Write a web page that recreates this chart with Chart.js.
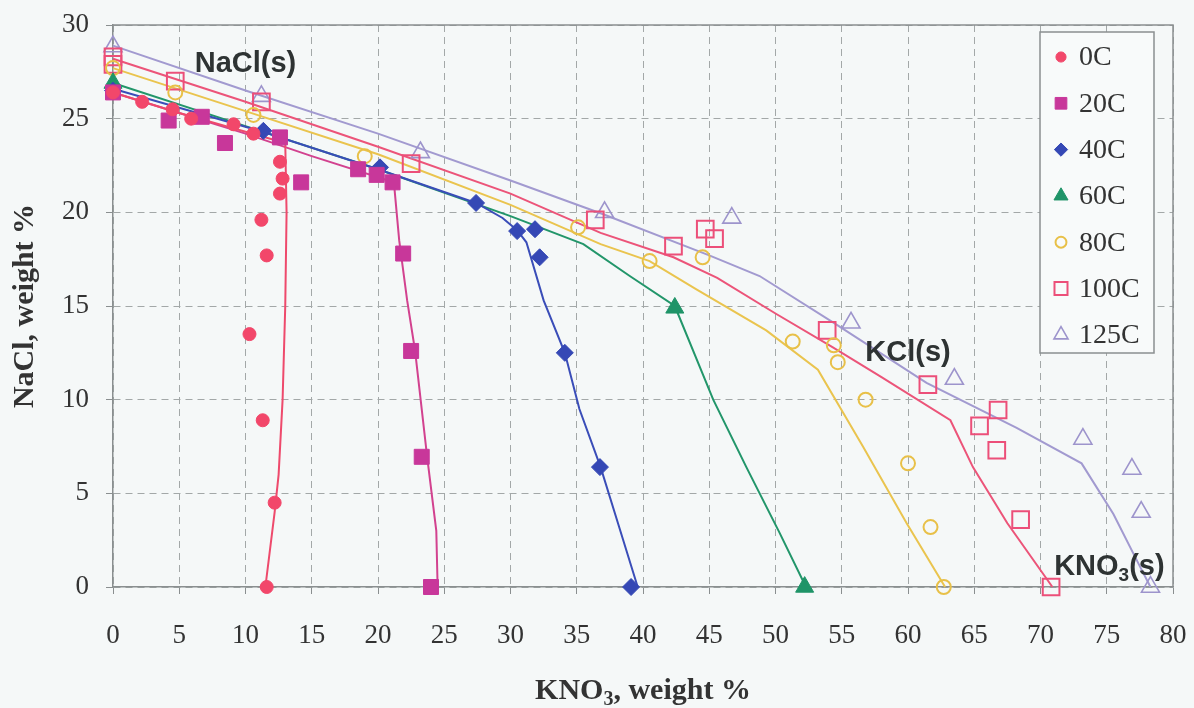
<!DOCTYPE html>
<html><head><meta charset="utf-8">
<script src="https://cdn.jsdelivr.net/npm/chart.js@4.4.0/dist/chart.umd.min.js"></script>
<style>html,body{margin:0;padding:0;background:#f5f8f8}#wrap{width:1194px;height:708px}canvas{display:block}</style>
</head><body><div id="wrap"><canvas id="c" width="1194" height="708"></canvas></div>
<script>
// ---- data ----
const seriesNames = ['0C','20C','40C','60C','80C','100C','125C'];
const xTicks = [0,5,10,15,20,25,30,35,40,45,50,55,60,65,70,75,80];
const yTicks = [0,5,10,15,20,25,30];

// measured points (KNO3 wt%, NaCl wt%)
const p0C_x   = [0, 2.2, 4.5, 5.9, 9.1, 10.6, 12.6, 12.8, 12.6, 11.2, 11.6, 10.3, 11.3, 12.2, 11.6];
const p0C_y   = [26.4, 25.9, 25.5, 25.0, 24.7, 24.2, 22.7, 21.8, 21.0, 19.6, 17.7, 13.5, 8.9, 4.5, 0];
const p20C_x  = [0, 4.2, 6.7, 8.45, 12.6, 14.2, 18.5, 19.9, 21.1, 21.9, 22.5, 23.3, 24.0];
const p20C_y  = [26.4, 24.9, 25.1, 23.7, 24.0, 21.6, 22.3, 22.0, 21.6, 17.8, 12.6, 6.95, 0];
const p40C_x  = [0, 11.35, 20.15, 27.4, 30.5, 31.85, 32.2, 34.1, 36.75, 39.1];
const p40C_y  = [26.5, 24.35, 22.4, 20.5, 19.0, 19.1, 17.6, 12.5, 6.4, 0];
const p60C_x  = [0, 42.4, 52.2];
const p60C_y  = [26.9, 14.9, 0];
const p80C_x  = [0, 4.7, 10.6, 19.0, 35.1, 40.5, 44.5, 51.3, 54.4, 54.7, 56.8, 60.0, 61.7, 62.7];
const p80C_y  = [27.7, 26.4, 25.2, 23.0, 19.2, 17.4, 17.6, 13.1, 12.9, 12.0, 10.0, 6.6, 3.2, 0];
const p100C_x = [0, 0, 4.7, 11.2, 22.5, 36.4, 42.3, 44.7, 45.4, 53.9, 61.5, 65.4, 66.8, 66.7, 68.5, 70.8];
const p100C_y = [28.3, 27.9, 27.0, 25.9, 22.6, 19.6, 18.2, 19.1, 18.6, 13.7, 10.8, 8.6, 9.45, 7.3, 3.6, 0];
const p125C_x = [0, 11.2, 23.2, 37.1, 46.7, 55.7, 63.5, 73.2, 76.9, 77.6, 78.3];
const p125C_y = [28.85, 26.2, 23.2, 20.0, 19.7, 14.1, 11.1, 7.9, 6.3, 4.0, 0];

// model curves
const c0C_x   = [0, 5, 10, 13.0, 13.1, 13.0, 12.8, 12.5, 12.2, 11.5];
const c0C_y   = [26.4, 25.3, 24.3, 23.7, 20, 15, 10, 6, 4, 0];
const c20C_x  = [0, 5, 10, 15, 21.2, 21.6, 22.2, 22.8, 23.7, 24.4, 24.5];
const c20C_y  = [26.4, 25.3, 24.2, 23.0, 21.6, 18.5, 15.3, 12.6, 7.0, 3.0, 0];
const c40C_x  = [0, 11.3, 20, 27.4, 29.4, 30.5, 31.2, 32.5, 34.1, 35.2, 36.8, 38.2, 39.6];
const c40C_y  = [26.6, 24.3, 22.3, 20.5, 19.7, 19.05, 18.4, 15.3, 12.5, 9.5, 6.4, 3.2, 0];
const c60C_x  = [0, 10, 20, 30, 35.5, 39, 42.4, 45.3, 47.8, 50.3, 52.3];
const c60C_y  = [26.9, 24.6, 22.3, 19.8, 18.3, 16.6, 15.0, 10.0, 6.4, 2.9, 0];
const c80C_x  = [0, 10, 20, 30, 36.8, 40.5, 44, 49.3, 53.2, 56.6, 59.9, 62.8];
const c80C_y  = [27.7, 25.4, 23.1, 20.4, 18.3, 17.4, 15.9, 13.7, 11.6, 7.5, 3.4, 0];
const c100C_x = [0, 10, 20, 30, 36.8, 42.3, 45.6, 50, 54.3, 58, 63.2, 64.9, 67.5, 70.9];
const c100C_y = [28.2, 25.9, 23.5, 21.0, 18.9, 17.6, 16.5, 14.6, 12.8, 11.2, 8.9, 6.4, 3.4, 0];
const c125C_x = [0, 10, 20, 30, 37, 45, 48.8, 54.4, 61.4, 68.2, 73.1, 75.5, 77.5, 78.3];
const c125C_y = [28.9, 26.5, 24.2, 21.7, 19.9, 17.7, 16.6, 14.1, 10.9, 8.5, 6.6, 3.9, 1.1, 0];

const phaseLabels = [
  {parts:[{t:'NaCl(s)'}], x:10, y:27.5},
  {parts:[{t:'KCl(s)'}], x:60, y:12.07},
  {parts:[{t:'KNO'},{t:'3',sub:true},{t:'(s)'}], x:75.2, y:0.64}
];

// ---- styles ----
const colors = ['#f2476a','#c8379a','#3548b5','#1f9468','#e8c048','#ec4f79','#9d94cc'];
const lineColors = ['#ee4a6c','#d2428f','#3a4db8','#22966a','#eac44e','#ec5479','#a29ad0'];
const mk = [
  {style:'circle',  r:6.5,  fill:true,  bw:1},
  {style:'rect',    r:10.6, fill:true,  bw:1},
  {style:'rectRot', r:8.5,  fill:true,  bw:1},
  {style:'triangle',r:10.4, fill:true,  bw:1},
  {style:'circle',  r:7,    fill:false, bw:2},
  {style:'rect',    r:11.8, fill:false, bw:2},
  {style:'triangle',r:10.4, fill:false, bw:1.6}
];
const pX = [p0C_x,p20C_x,p40C_x,p60C_x,p80C_x,p100C_x,p125C_x];
const pY = [p0C_y,p20C_y,p40C_y,p60C_y,p80C_y,p100C_y,p125C_y];
const cX = [c0C_x,c20C_x,c40C_x,c60C_x,c80C_x,c100C_x,c125C_x];
const cY = [c0C_y,c20C_y,c40C_y,c60C_y,c80C_y,c100C_y,c125C_y];
const zip = (xs, ys) => xs.map((x, i) => ({x, y: ys[i]}));

const datasets = [];
seriesNames.forEach((name, i) => {
  datasets.push({
    label: name, type: 'scatter', data: zip(pX[i], pY[i]), showLine: false,
    pointStyle: mk[i].style, pointRadius: mk[i].r, pointHoverRadius: mk[i].r,
    pointBackgroundColor: mk[i].fill ? colors[i] : 'rgba(0,0,0,0)',
    pointBorderColor: colors[i], pointBorderWidth: mk[i].bw, clip: false
  });
});
seriesNames.forEach((name, i) => {
  datasets.push({
    label: name + ' model', type: 'scatter', data: zip(cX[i], cY[i]), showLine: true,
    pointRadius: 0, borderColor: lineColors[i], borderWidth: 2, tension: 0, clip: false, fill: false
  });
});

const SERIF = "'Liberation Serif','Times New Roman',serif";
const SANS = "'Liberation Sans',Arial,sans-serif";

function drawParts(ctx, parts, x, y, size, family, weight, align) {
  const subSize = Math.round(size * 0.65);
  const fontOf = p => `${weight} ${p.sub ? subSize : size}px ${family}`;
  let total = 0;
  parts.forEach(p => { ctx.font = fontOf(p); total += ctx.measureText(p.t).width; });
  let cx = align === 'center' ? x - total / 2 : x;
  ctx.textAlign = 'left'; ctx.textBaseline = 'alphabetic';
  parts.forEach(p => {
    ctx.font = fontOf(p);
    ctx.fillText(p.t, cx, p.sub ? y + size * 0.2 : y);
    cx += ctx.measureText(p.t).width;
  });
}

const decor = {
  id: 'decor',
  beforeDraw(chart) {
    const {ctx} = chart;
    ctx.save(); ctx.fillStyle = '#f5f8f8'; ctx.fillRect(0, 0, chart.width, chart.height); ctx.restore();
  },
  afterDatasetsDraw(chart) {
    const {ctx, chartArea: a, scales: {x, y}} = chart;
    ctx.save();
    // frame top/right
    ctx.strokeStyle = '#8a8f90'; ctx.lineWidth = 1.5;
    ctx.beginPath(); ctx.moveTo(a.left, a.top); ctx.lineTo(a.right, a.top); ctx.lineTo(a.right, a.bottom); ctx.stroke();
    // phase labels
    ctx.fillStyle = '#2e3333';
    phaseLabels.forEach(l => drawParts(ctx, l.parts, x.getPixelForValue(l.x), y.getPixelForValue(l.y), 29, SANS, 'bold', 'center'));
    // x-axis title with subscript
    ctx.fillStyle = '#333';
    drawParts(ctx, [{t:'KNO'},{t:'3',sub:true},{t:', weight %'}], (a.left + a.right) / 2, 699, 30, SERIF, 'bold', 'center');
    // legend
    const L = a.right - 133, T = a.top + 7, W = 114, H = 321;
    ctx.fillStyle = '#f8fafa'; ctx.fillRect(L, T, W, H);
    ctx.strokeStyle = '#8a8f90'; ctx.lineWidth = 1.5; ctx.strokeRect(L, T, W, H);
    const drawPoint = (Chart.helpers && Chart.helpers.drawPoint) ? Chart.helpers.drawPoint : null;
    seriesNames.forEach((name, i) => {
      const cy = T + 25 + i * 46.3;
      const px = L + 21;
      ctx.fillStyle = mk[i].fill ? colors[i] : 'rgba(0,0,0,0)';
      ctx.strokeStyle = colors[i]; ctx.lineWidth = mk[i].bw;
      if (drawPoint) {
        drawPoint(ctx, {pointStyle: mk[i].style, radius: mk[i].r * 0.78, rotation: 0, borderWidth: mk[i].bw}, px, cy);
      } else {
        ctx.beginPath(); ctx.arc(px, cy, mk[i].r * 0.7, 0, Math.PI * 2); ctx.fill(); ctx.stroke();
      }
      ctx.fillStyle = '#333'; ctx.font = `28px ${SERIF}`; ctx.textAlign = 'left'; ctx.textBaseline = 'middle';
      ctx.fillText(name, L + 39, cy + 1);
    });
    ctx.restore();
  }
};

new Chart(document.getElementById('c'), {
  type: 'scatter',
  data: {datasets},
  plugins: [decor],
  options: {
    responsive: false, animation: false, devicePixelRatio: 1,
    layout: {padding: {left: 0, right: 21, top: 25, bottom: 0}},
    plugins: {legend: {display: false}, tooltip: {enabled: false}},
    scales: {
      x: {
        type: 'linear', min: 0, max: 80,
        afterBuildTicks: s => { s.ticks = xTicks.map(v => ({value: v})); },
        ticks: {color: '#333', font: {family: SERIF, size: 27}, padding: 26, maxRotation: 0, autoSkip: false},
        grid: {color: '#a3a8a8', lineWidth: 1, tickLength: 7, tickColor: '#8a8f90'},
        border: {color: '#8a8f90', width: 1.5, dash: [7, 5]},
        afterFit: s => { s.height = 121; s.paddingLeft = 0; s.paddingRight = 0; }
      },
      y: {
        type: 'linear', min: 0, max: 30,
        afterBuildTicks: s => { s.ticks = yTicks.map(v => ({value: v})); },
        ticks: {color: '#333', font: {family: SERIF, size: 27}, padding: 17, autoSkip: false},
        grid: {color: '#a3a8a8', lineWidth: 1, tickLength: 7, tickColor: '#8a8f90'},
        border: {color: '#8a8f90', width: 1.5, dash: [7, 5]},
        title: {display: true, text: 'NaCl, weight %', color: '#333', font: {family: SERIF, size: 30, weight: 'bold'}, padding: {top: 7, bottom: 0}},
        afterFit: s => { s.width = 113; s.paddingTop = 0; s.paddingBottom = 0; }
      }
    }
  }
});
</script>
</body></html>
